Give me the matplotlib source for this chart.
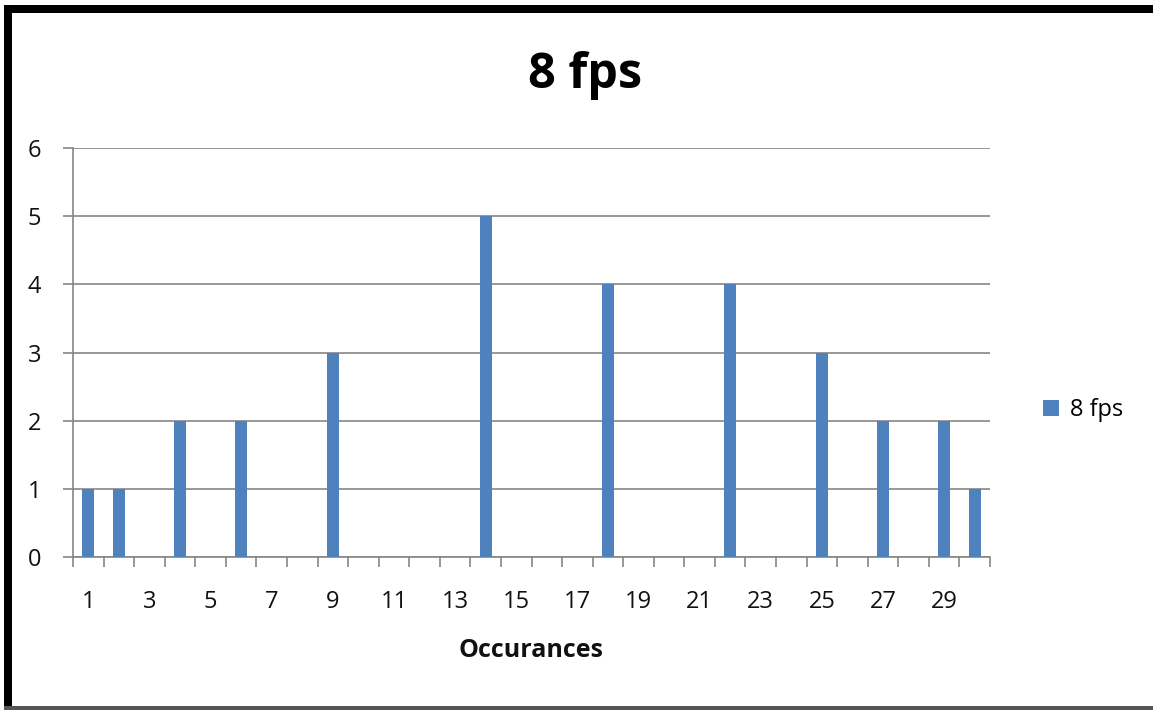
import matplotlib

matplotlib.use("Agg")
import matplotlib.pyplot as plt
from matplotlib.patches import Rectangle
import numpy as np

categories = list(range(1, 31))
counts = [1, 1, 0, 2, 0, 2, 0, 0, 3, 0, 0, 0, 0, 5, 0,
          0, 0, 4, 0, 0, 0, 4, 0, 0, 3, 0, 2, 0, 2, 1]
series_name = "8 fps"
title = "8 fps"
x_label = "Occurances"
y_ticks = [0, 1, 2, 3, 4, 5, 6]

plt.rcParams["font.family"] = ["Open Sans", "DejaVu Sans"]

W, H = 1153, 710
fig = plt.figure(figsize=(W / 100, H / 100), dpi=100)
fig.patch.set_facecolor("white")

ax = fig.add_axes([73 / W, 1 - 557 / H, (990 - 73) / W, (557 - 148) / H])
bars = ax.bar(categories, counts, width=0.4, color="#4F81BD", zorder=3, label=series_name)

ax.set_xlim(0.5, 30.5)
ax.set_ylim(0, 6)
ax.set_yticks(y_ticks)
ax.yaxis.grid(True, color="#868686", linewidth=1.2, zorder=0)
ax.set_xticks(categories[::2])
ax.set_xticks(np.arange(0.5, 31, 1), minor=True)
ax.tick_params(axis="x", which="major", length=0, pad=24, labelsize=17, colors="#111111")
ax.tick_params(axis="x", which="minor", length=7, width=1.2, color="#868686", direction="out")
ax.tick_params(axis="y", length=7, width=1.2, color="#868686", labelsize=17, pad=16,
               labelcolor="#111111")
for side in ("top", "right"):
    ax.spines[side].set_visible(False)
for side in ("left", "bottom"):
    ax.spines[side].set_color("#868686")
    ax.spines[side].set_linewidth(1.2)

ax.set_xlabel(x_label, fontsize=18, fontweight="bold", labelpad=17, color="#111111")
fig.text(585 / W, 1 - 76 / H, title, fontsize=35, fontweight="bold", ha="center", va="center")

fig.legend(handles=[bars], labels=[series_name], loc="center left",
           bbox_to_anchor=(1022 / W, 1 - 410 / H), frameon=False, fontsize=17,
           handlelength=0.65, handleheight=0.65, handletextpad=0.5)

# screenshot frame
fig.add_artist(Rectangle((4 / W, 1 - 13 / H), 1, 8 / H, transform=fig.transFigure,
                         color="black", lw=0))
fig.add_artist(Rectangle((4 / W, 0), 8 / W, 1 - 5 / H, transform=fig.transFigure,
                         color="black", lw=0))
fig.add_artist(Rectangle((4 / W, 0), 1, 4 / H, transform=fig.transFigure,
                         color="#555555", lw=0))

fig.savefig("out.png", dpi=100)
